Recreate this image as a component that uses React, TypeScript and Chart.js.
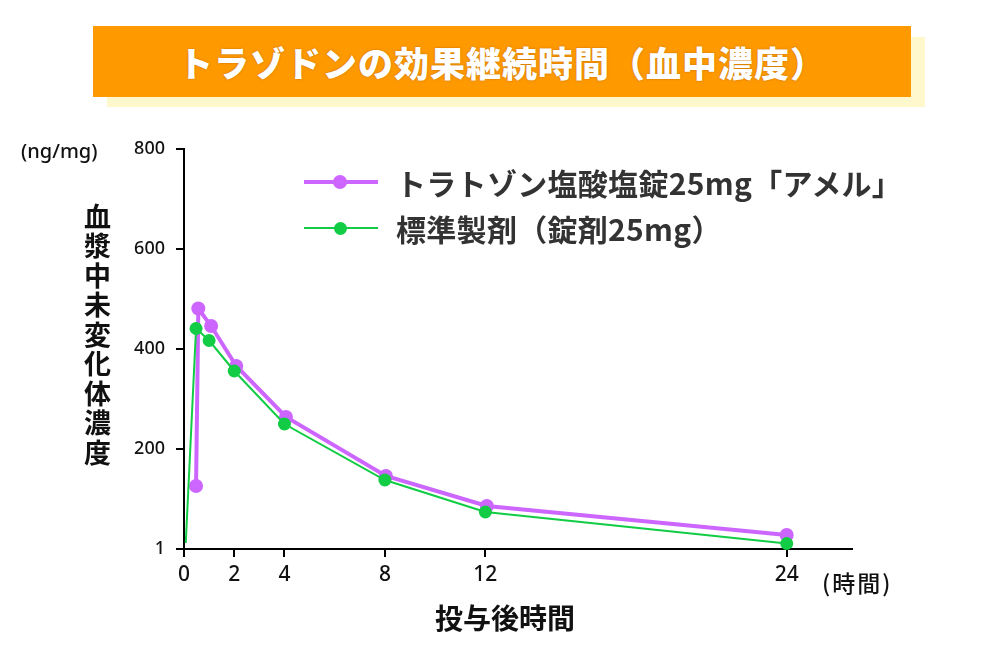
import React, { useEffect, useRef } from "react";
import { Chart, registerables } from "chart.js";
Chart.register(...registerables);

const amelTimes = [0.48, 0.57, 1.08, 2.08, 4.06, 8.04, 12.06, 24.0];
const amelValues = [126, 481, 446, 366, 264, 146, 86, 28];
const stdTimes = [0.07, 0.48, 1.0, 2.0, 4.0, 8.0, 12.0, 24.0];
const stdValues = [12, 441, 417, 356, 250, 138, 74, 11];
const xTicks = [0, 2, 4, 8, 12, 24];
const yTicks = [0, 200, 400, 600, 800];
const yTickLabels = ["1", "200", "400", "600", "800"];
const seriesNames = ["トラトゾン塩酸塩錠25mg「アメル」", "標準製剤（錠剤25mg）"];
const titleText = "トラゾドンの効果継続時間（血中濃度）";
const yTitle = "血漿中未変化体濃度";
const xTitle = "投与後時間";
const yUnit = "(ng/mg)";
const xUnit = "(時間)";

const PURPLE = "#CC66FF";
const GREEN = "#11CC44";
const JP = "'Noto Sans CJK JP', 'Noto Sans', sans-serif";

export default function App() {
  const ref = useRef<HTMLCanvasElement | null>(null);
  useEffect(() => {
    if (!ref.current) return;
    const chart = new Chart(ref.current, {
      type: "line",
      data: {
        datasets: [
          {
            label: seriesNames[0],
            data: amelTimes.map((t, i) => ({ x: t, y: amelValues[i] })),
            borderColor: PURPLE,
            backgroundColor: PURPLE,
            borderWidth: 4,
            pointRadius: 7,
            pointBorderWidth: 0,
            tension: 0,
            clip: false as any,
          },
          {
            label: seriesNames[1],
            data: stdTimes.map((t, i) => ({ x: t, y: stdValues[i] })),
            borderColor: GREEN,
            backgroundColor: GREEN,
            borderWidth: 2,
            pointRadius: stdTimes.map((_, i) => (i === 0 ? 0 : 6.5)),
            pointBorderWidth: 0,
            tension: 0,
            clip: false as any,
          },
        ].reverse() as any,
      },
      options: {
        animation: false,
        responsive: false,
        maintainAspectRatio: false,
        layout: { padding: { left: 0, right: 148, top: 149, bottom: 0 } },
        plugins: { legend: { display: false }, tooltip: { enabled: false } },
        scales: {
          x: {
            type: "linear",
            min: 0,
            max: 26.6,
            afterBuildTicks: (s: any) => {
              s.ticks = xTicks.map((v) => ({ value: v }));
            },
            afterFit: (s: any) => {
              s.height = 118;
            },
            grid: { drawOnChartArea: false, drawTicks: true, tickLength: 8, color: "#000", lineWidth: 2 },
            border: { display: true, color: "#000", width: 2 },
            ticks: {
              autoSkip: false,
              maxRotation: 0,
              padding: 5,
              color: "#111",
              font: { family: "'Noto Sans', sans-serif", size: 21, weight: 500 as any },
              callback: (v: any) => String(v),
            },
          },
          y: {
            type: "linear",
            min: 0,
            max: 800,
            afterBuildTicks: (s: any) => {
              s.ticks = yTicks.map((v) => ({ value: v }));
            },
            afterFit: (s: any) => {
              s.width = 184;
            },
            grid: { drawOnChartArea: false, drawTicks: true, tickLength: 8, color: "#000", lineWidth: 2 },
            border: { display: true, color: "#000", width: 2 },
            ticks: {
              autoSkip: false,
              padding: 11,
              color: "#111",
              font: { family: "'Noto Sans', sans-serif", size: 18, weight: 500 as any },
              callback: (v: any) => yTickLabels[yTicks.indexOf(Number(v))] ?? "",
            },
          },
        },
      },
    });
    return () => chart.destroy();
  }, []);

  const legendRow = (color: string, lw: number, r: number, top: number, text: string) => (
    <div style={{ position: "absolute", left: 304, top: top - 20, height: 40, width: 660 }}>
      <div style={{ position: "absolute", left: 0, top: 20 - lw / 2, width: 74, height: lw, background: color }} />
      <div
        style={{
          position: "absolute",
          left: 36 - r,
          top: 20 - r,
          width: r * 2,
          height: r * 2,
          borderRadius: "50%",
          background: color,
        }}
      />
      <div
        style={{
          position: "absolute",
          left: 92,
          top: 0,
          lineHeight: "40px",
          fontFamily: JP,
          fontWeight: 700,
          fontSize: 30,
          letterSpacing: 0.3,
          color: "#333",
          whiteSpace: "nowrap",
        }}
      >
        {text}
      </div>
    </div>
  );

  return (
    <div style={{ position: "absolute", left: 0, top: 0, width: 1000, height: 667, background: "#fff", overflow: "hidden" }}>
      <div style={{ position: "absolute", left: 107, top: 37, width: 818, height: 70, background: "#FFF8CC" }} />
      <div
        style={{
          position: "absolute",
          left: 93,
          top: 26,
          width: 818,
          height: 71,
          background: "#FF9900",
          color: "#fff",
          fontFamily: JP,
          fontWeight: 900,
          fontSize: 35,
          lineHeight: "71px",
          textAlign: "center",
          whiteSpace: "nowrap",
          letterSpacing: 1,
          textShadow: "0 0 2px rgba(120,60,0,0.5)",
        }}
      >
        {titleText}
      </div>
      <canvas ref={ref} width={1000} height={667} style={{ position: "absolute", left: 0, top: 0 }} />
      {legendRow(PURPLE, 4, 7, 182, seriesNames[0])}
      {legendRow(GREEN, 2, 6.5, 228, seriesNames[1])}
      <div
        style={{
          position: "absolute",
          left: 21,
          top: 137,
          fontFamily: "'Noto Sans', sans-serif",
          fontWeight: 500,
          fontSize: 20,
          lineHeight: "28px",
          color: "#111",
        }}
      >
        {yUnit}
      </div>
      <div
        style={{
          position: "absolute",
          left: 82,
          top: 203,
          writingMode: "vertical-rl",
          fontFamily: JP,
          fontWeight: 700,
          fontSize: 27,
          lineHeight: "30px",
          letterSpacing: 2.5,
          color: "#111",
        }}
      >
        {yTitle}
      </div>
      <div
        style={{
          position: "absolute",
          left: 405,
          top: 599,
          width: 200,
          textAlign: "center",
          fontFamily: JP,
          fontWeight: 700,
          fontSize: 28,
          lineHeight: "36px",
          color: "#111",
        }}
      >
        {xTitle}
      </div>
      <div
        style={{
          position: "absolute",
          left: 822,
          top: 566,
          fontFamily: JP,
          fontWeight: 500,
          fontSize: 23,
          lineHeight: "32px",
          letterSpacing: 2,
          color: "#111",
        }}
      >
        {xUnit}
      </div>
    </div>
  );
}
